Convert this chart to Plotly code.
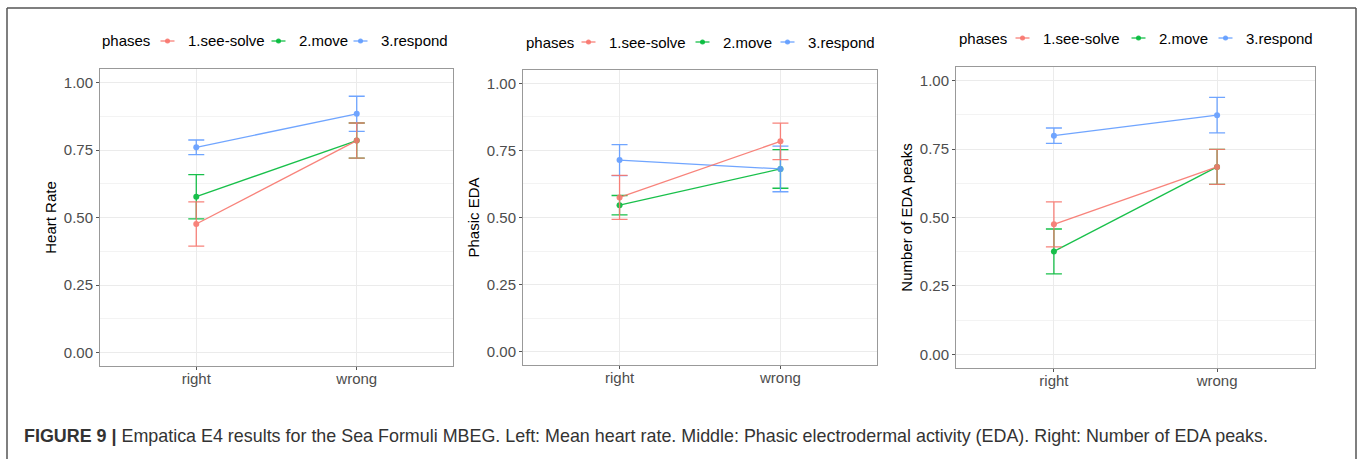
import plotly.graph_objects as go

W, H = 1358, 459

categories = ["right", "wrong"]
phases = ["1.see-solve", "2.move", "3.respond"]
colors = ["#F8766D", "#00BA38", "#619CFF"]

# Panel 1: Heart Rate
hr_mean = {"1.see-solve": [0.476, 0.785], "2.move": [0.577, 0.785], "3.respond": [0.760, 0.884]}
hr_err = {"1.see-solve": [0.082, 0.065], "2.move": [0.082, 0.065], "3.respond": [0.027, 0.065]}

# Panel 2: Phasic EDA
eda_mean = {"1.see-solve": [0.575, 0.784], "2.move": [0.546, 0.681], "3.respond": [0.714, 0.681]}
eda_err = {"1.see-solve": [0.082, 0.068], "2.move": [0.036, 0.072], "3.respond": [0.058, 0.085]}

# Panel 3: Number of EDA peaks
pk_mean = {"1.see-solve": [0.475, 0.685], "2.move": [0.376, 0.685], "3.respond": [0.799, 0.874]}
pk_err = {"1.see-solve": [0.082, 0.064], "2.move": [0.082, 0.064], "3.respond": [0.028, 0.065]}

y_titles = ["Heart Rate", "Phasic EDA", "Number of EDA peaks"]
y_ticks = [0.0, 0.25, 0.5, 0.75, 1.0]
y_ticklabels = ["0.00", "0.25", "0.50", "0.75", "1.00"]
legend_title = "phases"

caption_bold = "FIGURE 9 |"
caption_text = ("Empatica E4 results for the Sea Formuli MBEG. Left: Mean heart rate. "
                "Middle: Phasic electrodermal activity (EDA). Right: Number of EDA peaks.")

FONT = "Liberation Sans, Arial, Helvetica, sans-serif"

# layout geometry in pixels (left, right, top, bottom) of each panel
panels_px = [(100, 453, 69, 366), (523, 877, 70, 365), (956, 1315, 67, 368)]
# legend layout: title x, y centre, text start x of each entry
legend_title_x = [100, 524, 957]
legend_y = [41, 42, 38]
legend_text_x = [[187, 298, 380], [608, 722, 807], [1042, 1158, 1245]]

fig = go.Figure()
datasets = [(hr_mean, hr_err), (eda_mean, eda_err), (pk_mean, pk_err)]
draw_order = [1, 2, 0]
for p, (means, errs) in enumerate(datasets):
    ax = "" if p == 0 else str(p + 1)
    for i in draw_order:
        ph = phases[i]
        fig.add_trace(go.Scatter(
            x=categories, y=means[ph],
            mode="lines+markers",
            name=ph,
            line=dict(color=colors[i], width=1.3),
            marker=dict(color=colors[i], size=6),
            error_y=dict(type="data", array=errs[ph], visible=True,
                         color=colors[i], thickness=1.3, width=8),
            xaxis="x" + ax, yaxis="y" + ax,
            showlegend=False,
            opacity=0.9,
        ))

layout = dict(
    width=W, height=H,
    margin=dict(l=0, r=0, t=0, b=0),
    paper_bgcolor="white", plot_bgcolor="white",
    font=dict(family=FONT, size=15, color="#4D4D4D"),
    showlegend=False,
)

for p, (l, r, t, b) in enumerate(panels_px):
    ax = "" if p == 0 else str(p + 1)
    layout["xaxis" + ax] = dict(
        domain=[l / W, r / W], anchor="y" + ax,
        type="category", range=[-0.6, 1.6],
        showgrid=True, gridcolor="#EBEBEB", gridwidth=1,
        showline=True, linecolor="#999999", linewidth=1, mirror=True,
        ticks="outside", ticklen=3, tickcolor="#555555",
        tickfont=dict(size=15, color="#4D4D4D"),
        ticklabelstandoff=-4,
        zeroline=False, fixedrange=True,
    )
    layout["yaxis" + ax] = dict(
        domain=[1 - b / H, 1 - t / H], anchor="x" + ax,
        range=[-0.05, 1.05],
        tickmode="array", tickvals=y_ticks, ticktext=y_ticklabels,
        showgrid=True, gridcolor="#EBEBEB", gridwidth=1,
        minor=dict(dtick=0.125, tick0=0, showgrid=True, gridcolor="#F3F3F3", gridwidth=1, ticks=""),
        showline=True, linecolor="#999999", linewidth=1, mirror=True,
        ticks="outside", ticklen=3, tickcolor="#555555",
        tickfont=dict(size=15, color="#4D4D4D"),
        title=dict(text=y_titles[p], font=dict(size=15, color="black"), standoff=3),
        zeroline=False, fixedrange=True,
    )

fig.update_layout(**layout)

# ggplot-style legends above each panel (keys + labels)
for p in range(3):
    yy = 1 - legend_y[p] / H
    fig.add_annotation(xref="paper", yref="paper", x=legend_title_x[p] / W, y=yy,
                       xanchor="left", yanchor="middle", showarrow=False,
                       text=legend_title, font=dict(size=15, color="black"))
    for i, ph in enumerate(phases):
        tx = legend_text_x[p][i]
        kc = tx - 19.5
        fig.add_shape(type="line", xref="paper", yref="paper",
                      x0=(kc - 7) / W, x1=(kc + 7) / W, y0=yy, y1=yy,
                      line=dict(color=colors[i], width=1.3), opacity=0.9)
        fig.add_shape(type="circle", xref="paper", yref="paper",
                      x0=(kc - 2.5) / W, x1=(kc + 2.5) / W,
                      y0=yy - 2.5 / H, y1=yy + 2.5 / H,
                      line=dict(color=colors[i], width=0), fillcolor=colors[i], opacity=0.9)
        fig.add_annotation(xref="paper", yref="paper", x=(tx - 1) / W, y=yy,
                           xanchor="left", yanchor="middle", showarrow=False,
                           text=ph, font=dict(size=15, color="black"))

# outer frame
frame = dict(color="#555555", width=1.5)
fig.add_shape(type="line", xref="paper", yref="paper", x0=7 / W, x1=1356 / W, y0=1 - 8 / H, y1=1 - 8 / H, line=frame)
fig.add_shape(type="line", xref="paper", yref="paper", x0=7 / W, x1=7 / W, y0=1 - 8 / H, y1=-0.05, line=frame)
fig.add_shape(type="line", xref="paper", yref="paper", x0=1356 / W, x1=1356 / W, y0=1 - 8 / H, y1=-0.05, line=frame)

fig.add_annotation(
    xref="paper", yref="paper", x=22 / W, y=1 - 436 / H, xanchor="left", yanchor="middle",
    text="<b>" + caption_bold + "</b> " + caption_text, showarrow=False,
    font=dict(family=FONT, size=17.9, color="#333333"),
)

fig.write_html("out.html", config={"displayModeBar": False},
               post_script="document.body.style.margin='0';document.body.style.overflow='hidden';")
